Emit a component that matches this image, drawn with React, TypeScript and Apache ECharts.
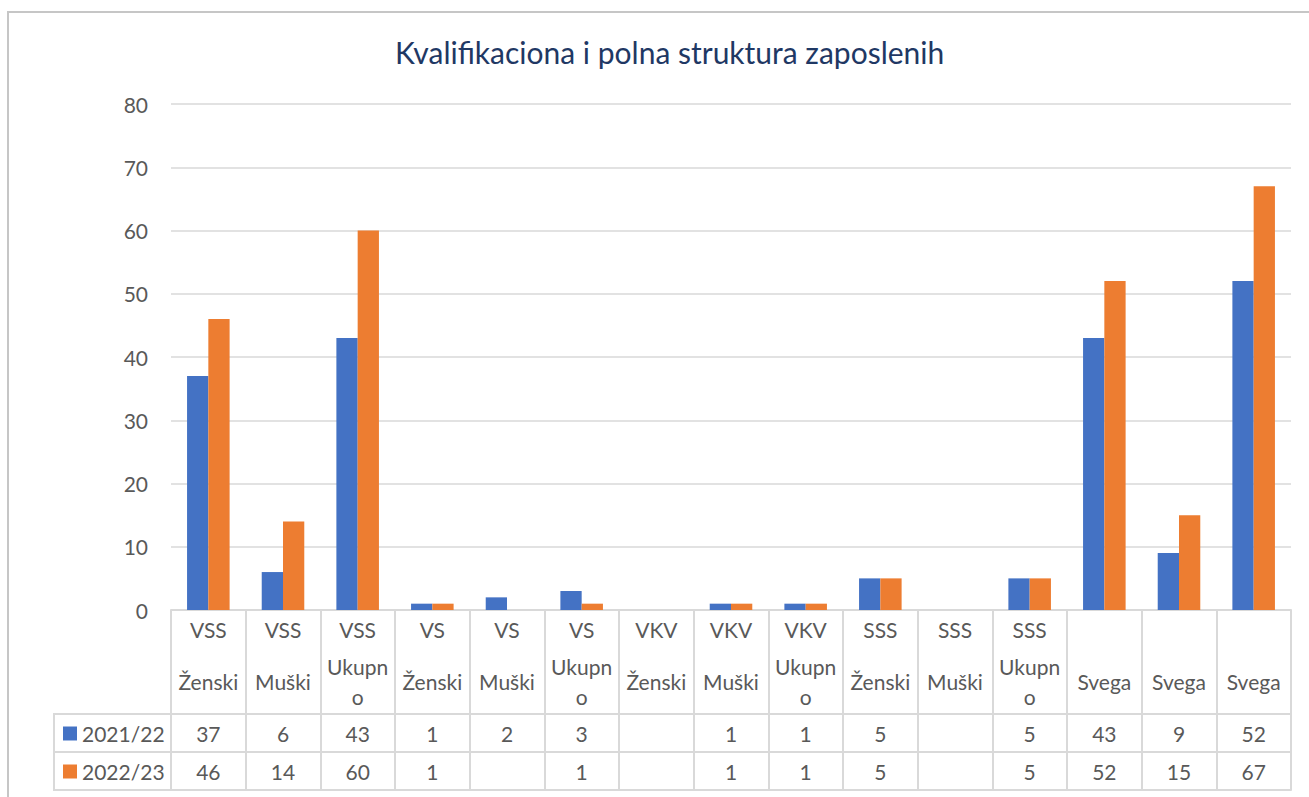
import React, { useEffect, useRef } from "react";
import * as echarts from "echarts";

const titleText = "Kvalifikaciona i polna struktura zaposlenih";
const groupLabels = ["VSS", "VSS", "VSS", "VS", "VS", "VS", "VKV", "VKV", "VKV", "SSS", "SSS", "SSS", "", "", ""];
const subLabels = ["Ženski", "Muški", "Ukupn\no", "Ženski", "Muški", "Ukupn\no", "Ženski", "Muški", "Ukupn\no", "Ženski", "Muški", "Ukupn\no", "Svega", "Svega", "Svega"];
const seriesNames = ["2021/22", "2022/23"];
const values2021: (number | null)[] = [37, 6, 43, 1, 2, 3, null, 1, 1, 5, null, 5, 43, 9, 52];
const values2022: (number | null)[] = [46, 14, 60, 1, null, 1, null, 1, 1, 5, null, 5, 52, 15, 67];
const yTicks = { min: 0, max: 80, interval: 10 };

const categories = groupLabels.map((g, i) => `${g} ${subLabels[i]}`);

const TEXT = "#595959";
const LINE = "#d9d9d9";
const FONT = "Lato, 'Noto Sans', sans-serif";
const FS = 21;

export default function App() {
  const ref = useRef<HTMLDivElement>(null);
  useEffect(() => {
    if (!ref.current) return;
    const chart = echarts.init(ref.current, null, { renderer: "svg" });
    const cellText = (arr: (number | null)[]) => (_: any, i: number) =>
      arr[i] == null ? "" : String(arr[i]);
    const baseAxis = {
      type: "category" as const,
      data: categories,
      gridIndex: 0,
      position: "bottom" as const,
      boundaryGap: true,
      splitLine: { show: false },
    };
    const legendBase = {
      left: 58,
      itemWidth: 14,
      itemHeight: 14,
      icon: "rect",
      textStyle: { color: TEXT, fontSize: FS, lineHeight: 20, fontFamily: FONT },
      selectedMode: false,
    };
    const option: any = {
      animation: false,
      backgroundColor: "#ffffff",
      textStyle: { fontFamily: FONT },
      title: {
        text: titleText,
        left: 390,
        top: 32,
        textStyle: { color: "#1f3864", fontSize: 30, fontWeight: "normal", fontFamily: FONT },
      },
      legend: [
        { ...legendBase, data: [seriesNames[0]], top: 718 },
        { ...legendBase, data: [seriesNames[1]], top: 756 },
      ],
      grid: { left: 171, right: 18, top: 104, bottom: 187, containLabel: false },
      xAxis: [
        {
          ...baseAxis,
          axisLine: { show: true, lineStyle: { color: LINE, width: 2 } },
          axisTick: { show: true, interval: 0, length: 104, lineStyle: { color: LINE, width: 2 } },
          axisLabel: {
            interval: 0,
            margin: 19,
            verticalAlign: "middle",
            color: TEXT,
            fontSize: FS,
            fontFamily: FONT,
            formatter: (_: any, i: number) => groupLabels[i],
          },
        },
        {
          ...baseAxis,
          axisLine: { show: false },
          axisTick: { show: false },
          axisLabel: {
            interval: 0,
            margin: 71,
            verticalAlign: "middle",
            lineHeight: 30,
            color: TEXT,
            fontSize: FS,
            fontFamily: FONT,
            formatter: (_: any, i: number) => subLabels[i],
          },
        },
        {
          ...baseAxis,
          offset: 104,
          axisLine: { show: true, lineStyle: { color: LINE, width: 2 } },
          axisTick: { show: true, interval: 0, length: 76, lineStyle: { color: LINE, width: 2 } },
          axisLabel: {
            interval: 0,
            margin: 19,
            verticalAlign: "middle",
            color: TEXT,
            fontSize: FS,
            fontFamily: FONT,
            formatter: cellText(values2021),
          },
        },
        {
          ...baseAxis,
          offset: 142,
          axisLine: { show: true, lineStyle: { color: LINE, width: 2 } },
          axisTick: { show: false },
          axisLabel: {
            interval: 0,
            margin: 19,
            verticalAlign: "middle",
            color: TEXT,
            fontSize: FS,
            fontFamily: FONT,
            formatter: cellText(values2022),
          },
        },
        {
          ...baseAxis,
          offset: 180,
          axisLine: { show: true, lineStyle: { color: LINE, width: 2 } },
          axisTick: { show: false },
          axisLabel: { show: false },
        },
      ],
      yAxis: {
        type: "value",
        min: yTicks.min,
        max: yTicks.max,
        interval: yTicks.interval,
        axisLine: { show: false },
        axisTick: { show: false },
        splitLine: { show: true, lineStyle: { color: LINE, width: 1.5 } },
        axisLabel: { color: TEXT, fontSize: FS, margin: 23, fontFamily: FONT },
      },
      series: [
        {
          name: seriesNames[0],
          type: "bar",
          xAxisIndex: 0,
          data: values2021,
          itemStyle: { color: "#4472c4" },
          barGap: "0%",
          barCategoryGap: "43%",
        },
        {
          name: seriesNames[1],
          type: "bar",
          xAxisIndex: 0,
          data: values2022,
          itemStyle: { color: "#ed7d31" },
          barGap: "0%",
          barCategoryGap: "43%",
        },
      ],
      graphic: [
        {
          type: "rect",
          silent: true,
          shape: { x: 8, y: 12, width: 1400, height: 900 },
          style: { fill: "none", stroke: "#c6c6c6", lineWidth: 2 },
        },
        { type: "line", silent: true, shape: { x1: 54, y1: 714, x2: 171, y2: 714 }, style: { stroke: LINE, lineWidth: 2 } },
        { type: "line", silent: true, shape: { x1: 54, y1: 752, x2: 171, y2: 752 }, style: { stroke: LINE, lineWidth: 2 } },
        { type: "line", silent: true, shape: { x1: 54, y1: 790, x2: 171, y2: 790 }, style: { stroke: LINE, lineWidth: 2 } },
        { type: "line", silent: true, shape: { x1: 54, y1: 713, x2: 54, y2: 791 }, style: { stroke: LINE, lineWidth: 2 } },
      ],
    };
    chart.setOption(option);
    return () => chart.dispose();
  }, []);
  return (
    <div
      ref={ref}
      style={{ position: "absolute", left: 0, top: 0, width: 1309, height: 797, background: "#fff" }}
    />
  );
}
